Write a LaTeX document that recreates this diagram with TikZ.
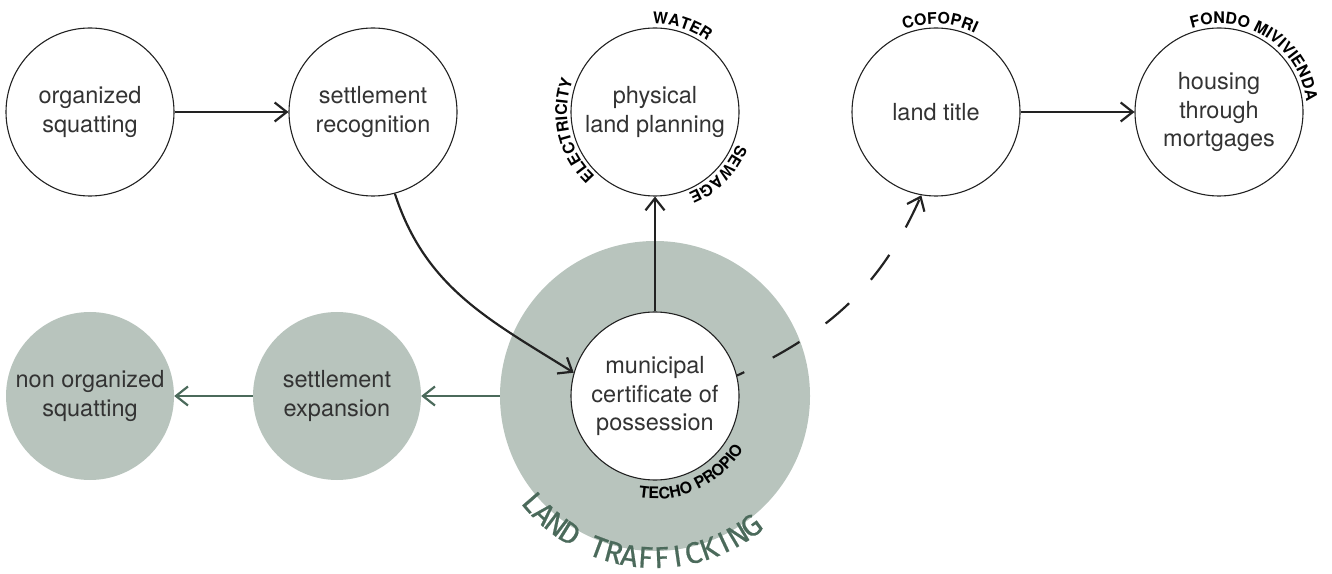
\documentclass[tikz,border=0pt]{standalone}
\usepackage{fontspec}
\setmainfont{TeX Gyre Heros}
\newfontfamily\handfont[FakeBold=0.6]{Fira Sans}
\usetikzlibrary{arrows.meta,decorations.text}

\definecolor{sage}{HTML}{B8C4BD}
\definecolor{pine}{HTML}{4B6A5B}
\definecolor{ink}{HTML}{222222}
\definecolor{txt}{HTML}{333333}

\tikzset{
  x=1pt, y=1pt,
  stage/.style={circle, draw=ink, line width=1.1pt, minimum size=168pt, inner sep=0pt,
    align=center, text=txt, font=\fontsize{23.5}{28.5}\selectfont},
  shaded/.style={circle, fill=sage, minimum size=168pt, inner sep=0pt,
    align=center, text=txt, font=\fontsize{23.5}{28.5}\selectfont},
  barb/.style={-{Straight Barb[length=12pt,width=19pt]}},
  flow/.style={line width=2.2pt, draw=ink, barb},
  spill/.style={line width=2.2pt, draw=pine, barb},
  arclabel/.style={decorate, decoration={text along path, text align=center,
    text={|\fontsize{16}{16}\bfseries\selectfont|#1}}},
  handtext/.style={text=pine, font=\handfont\fontsize{30}{30}\selectfont, inner sep=0pt}
}

\begin{document}
\begin{tikzpicture}
\useasboundingbox (0,0) rectangle (1332,573);

% land trafficking ring with the certificate inside
\node[circle, fill=sage, minimum size=310pt, inner sep=0pt] (ring) at (655,177) {};
\node[stage, fill=white] (cert) at (655,177) {municipal\\certificate of\\possession};

% formal route (top row)
\node[stage] (os) at (90,461)   {organized\\squatting};
\node[stage] (sr) at (373,461)  {settlement\\recognition};
\node[stage] (pl) at (655,461)  {physical\\land planning};
\node[stage] (lt) at (936,461)  {land title};
\node[stage] (hm) at (1219,461) {housing\\through\\mortgages};

% informal route (bottom row)
\node[shaded] (se)  at (337,177) {settlement\\expansion};
\node[shaded] (nos) at (90,177)  {non organized\\squatting};

% connectors
\draw[flow] (os) -- (sr);
\draw[flow] (lt) -- (hm);
\draw[flow] (cert.north) -- (pl.south);
\draw[flow] (sr.-75) to[out=-72, in=148] (cert.164);
\draw[flow, dash pattern=on 31pt off 32pt, dash phase=23pt]
  (cert.14) to[out=25, in=-114] (lt.-100);
\draw[spill] (ring.west) -- (se.east);
\draw[spill] (se.west) -- (nos.east);

% agency labels along the circles
\path[arclabel=WATER]
  ([shift={(152.5:88)}]pl.center) arc[start angle=152.5, end angle=-7.5, radius=88];
\path[arclabel=ELECTRICITY]
  ([shift={(273:88)}]pl.center) arc[start angle=273, end angle=113, radius=88];
\path[arclabel=SEWAGE]
  ([shift={(35.5:88)}]pl.center) arc[start angle=35.5, end angle=-124.5, radius=88];
\path[arclabel=COFOPRI]
  ([shift={(167.5:88)}]lt.center) arc[start angle=167.5, end angle=7.5, radius=88];
\path[arclabel=FONDO MIVIVIENDA]
  ([shift={(147.5:88)}]hm.center) arc[start angle=147.5, end angle=-32.5, radius=88];
\path[arclabel=TECHO PROPIO]
  ([shift={(215:103)}]cert.center) arc[start angle=215, end angle=375, radius=103];

% hand lettered caption under the ring
\foreach \ch [count=\i, evaluate=\i as \a using 221+(\i-1)*5.7] in
    {L,A,N,D,{},T,R,A,F,F,I,C,K,I,N,G}
  \node[handtext, anchor=base, rotate=\a+90] (trf\i) at ([shift={(\a:172)}]ring.center) {\ch};
\end{tikzpicture}
\end{document}
